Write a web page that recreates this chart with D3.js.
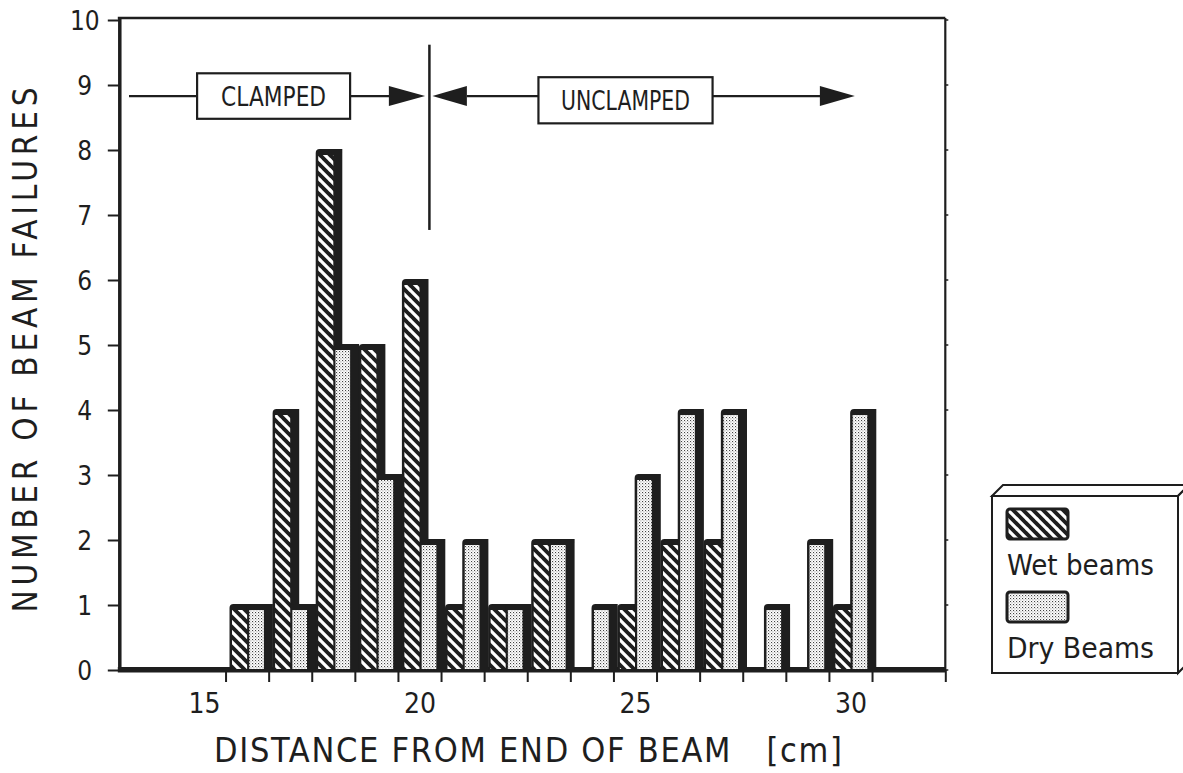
<!DOCTYPE html>
<html lang="en">
<head>
<meta charset="utf-8">
<title>Beam failures</title>
<script src="https://cdn.jsdelivr.net/npm/d3@7"></script>
<style>
  body { margin: 0; background: #fff; }
  text { font-family: "DejaVu Sans Condensed", "DejaVu Sans", sans-serif; fill: #1e1e1e; }
</style>
</head>
<body>
<script>

// distance bins [cm] and counts
var bins      = [16, 17, 18, 19, 20, 21, 22, 23, 24, 25, 26, 27, 28, 29, 30];
var wetCounts = [ 1,  4,  8,  5,  6,  1,  1,  2,  0,  1,  2,  2,  0,  0,  1];
var dryCounts = [ 1,  1,  5,  3,  2,  2,  1,  2,  1,  3,  4,  4,  1,  2,  4];

var yTicks = [0, 1, 2, 3, 4, 5, 6, 7, 8, 9, 10];
var xTickLabels = [15, 20, 25, 30];
var xMinorTicks = d3.range(15.5, 31, 1).concat([32.2]);
var seriesNames = ["Wet beams", "Dry Beams"];

var clampEdge = 20.23;   // boundary between clamped and unclamped zone

var width = 1183, height = 773;

var x = d3.scaleLinear().domain([13, 32.2]).range([117.8, 945.3]);
var y = d3.scaleLinear().domain([0, 10]).range([670, 20]);

var svg = d3.select("body").append("svg")
    .attr("width", width)
    .attr("height", height);

var defs = svg.append("defs");

var hatch = defs.append("pattern")
    .attr("id", "hatch")
    .attr("patternUnits", "userSpaceOnUse")
    .attr("width", 10).attr("height", 10);
hatch.append("rect").attr("width", 10).attr("height", 10).attr("fill", "#1e1e1e");
hatch.append("path")
    .attr("d", "M-1,-1 L11,11 M-1,9 L1,11 M9,-1 L11,1")
    .attr("stroke", "#fff").attr("stroke-width", 3.2);

var dots = defs.append("pattern")
    .attr("id", "dots")
    .attr("patternUnits", "userSpaceOnUse")
    .attr("width", 3).attr("height", 3);
dots.append("rect").attr("width", 3).attr("height", 3).attr("fill", "#fff");
dots.append("rect").attr("x", 0).attr("y", 0).attr("width", 1.1).attr("height", 1.1).attr("fill", "#444");
dots.append("rect").attr("x", 1.5).attr("y", 1.5).attr("width", 0.9).attr("height", 0.9).attr("fill", "#666");

// frame
var ink = "#1e1e1e";
svg.append("line").attr("x1", x(13)).attr("x2", x(32.2)).attr("y1", y(10) - 2).attr("y2", y(10) - 2)
    .attr("stroke", ink).attr("stroke-width", 2.5);
svg.append("line").attr("x1", x(32.2)).attr("x2", x(32.2)).attr("y1", y(10) - 2).attr("y2", y(0))
    .attr("stroke", ink).attr("stroke-width", 2.2);

// y axis
var yAxis = d3.axisLeft(y).tickValues(yTicks).tickSize(12).tickFormat(d3.format("d"));
var gy = svg.append("g")
    .attr("transform", "translate(" + (x(13) + 2) + ",0)")
    .call(yAxis);
gy.select(".domain").attr("stroke", ink).attr("stroke-width", 3.5)
    .attr("d", "M0," + (y(10) - 2) + "V" + (y(0) + 2));
gy.selectAll(".tick line").attr("stroke", ink).attr("stroke-width", 2);
gy.selectAll(".tick text")
    .attr("x", -35).attr("dy", "0.36em")
    .attr("text-anchor", "middle")
    .attr("font-size", 26)
    .attr("fill", ink);

// right side small ticks
svg.append("g").selectAll("line").data(yTicks).enter().append("line")
    .attr("x1", x(32.2)).attr("x2", x(32.2) + 3)
    .attr("y1", function(d) { return y(d); }).attr("y2", function(d) { return y(d); })
    .attr("stroke", ink).attr("stroke-width", 1.5);

// x axis minor ticks
var xAxisMinor = d3.axisBottom(x).tickValues(xMinorTicks).tickSize(12).tickFormat("");
var gxm = svg.append("g").attr("transform", "translate(0," + y(0) + ")").call(xAxisMinor);
gxm.select(".domain").remove();
gxm.selectAll(".tick line").attr("stroke", ink).attr("stroke-width", 2);

// x axis labels
var xAxis = d3.axisBottom(x).tickValues(xTickLabels).tickSize(0);
var gx = svg.append("g").attr("transform", "translate(0," + y(0) + ")").call(xAxis);
gx.select(".domain").remove();
gx.selectAll(".tick text")
    .attr("y", 43).attr("dy", 0)
    .attr("font-size", 28)
    .attr("fill", ink);

// baseline
svg.append("rect")
    .attr("x", x(13)).attr("y", y(0) - 3)
    .attr("width", x(32.2) - x(13)).attr("height", 5.5)
    .attr("fill", ink);

// bars
var barData = [];
bins.forEach(function(b, i) {
    barData.push({bin: b, value: wetCounts[i], series: 0});
    barData.push({bin: b, value: dryCounts[i], series: 1});
});
barData = barData.filter(function(d) { return d.value > 0; });

var unit = x(1) - x(0);
function fillLeft(d) { return x(d.bin) + (d.series === 0 ? -0.35 * unit : 0.05 * unit); }
function fillRight(d) { return x(d.bin) + (d.series === 0 ? 0 : 0.39 * unit); }

function shadowPath(d) {
    var x0 = fillLeft(d) - 2.5, x1 = fillRight(d) + 9;
    var yt = y(d.value) - 1, yb = y(0), r = 4;
    return "M" + x0 + "," + yb + "L" + x0 + "," + (yt + r) +
        "Q" + x0 + "," + yt + " " + (x0 + r) + "," + yt +
        "L" + x1 + "," + yt + "L" + x1 + "," + yb + "Z";
}

svg.append("g").selectAll("path")
    .data(barData).enter().append("path")
    .attr("d", shadowPath)
    .attr("fill", ink);

svg.append("g").selectAll("rect")
    .data(barData).enter().append("rect")
    .attr("x", fillLeft)
    .attr("y", function(d) { return y(d.value) + 5; })
    .attr("width", function(d) { return fillRight(d) - fillLeft(d); })
    .attr("height", function(d) { return y(0) - 1 - (y(d.value) + 5); })
    .attr("fill", function(d) { return d.series === 0 ? "url(#hatch)" : "url(#dots)"; });

// clamped / unclamped annotation
var ann = svg.append("g").attr("stroke", ink).attr("stroke-width", 2.2).attr("fill", "none");
var arrowY = y(8.83);

ann.append("line").attr("x1", x(clampEdge)).attr("x2", x(clampEdge))
    .attr("y1", y(9.62)).attr("y2", y(6.77)).attr("stroke-width", 2.5);

function arrowHead(tipX, baseX) {
    return "M" + tipX + "," + arrowY + "L" + baseX + "," + (arrowY - 10) +
        "L" + baseX + "," + (arrowY + 10) + "Z";
}

// clamped
ann.append("line").attr("x1", x(13.26)).attr("x2", x(14.84)).attr("y1", arrowY).attr("y2", arrowY);
ann.append("rect").attr("x", x(14.84)).attr("y", y(9.18))
    .attr("width", x(18.39) - x(14.84)).attr("height", y(8.48) - y(9.18)).attr("fill", "#fff");
ann.append("line").attr("x1", x(18.39)).attr("x2", x(19.3)).attr("y1", arrowY).attr("y2", arrowY);
ann.append("path").attr("d", arrowHead(x(20.13), x(19.29))).attr("fill", ink).attr("stroke", "none");

// unclamped
ann.append("path").attr("d", arrowHead(x(20.3), x(21.1))).attr("fill", ink).attr("stroke", "none");
ann.append("line").attr("x1", x(21.1)).attr("x2", x(22.76)).attr("y1", arrowY).attr("y2", arrowY);
ann.append("rect").attr("x", x(22.76)).attr("y", y(9.12))
    .attr("width", x(26.8) - x(22.76)).attr("height", y(8.41) - y(9.12)).attr("fill", "#fff");
ann.append("line").attr("x1", x(26.8)).attr("x2", x(29.3)).attr("y1", arrowY).attr("y2", arrowY);
ann.append("path").attr("d", arrowHead(x(30.1), x(29.29))).attr("fill", ink).attr("stroke", "none");

svg.append("text").text("CLAMPED")
    .attr("x", (x(14.84) + x(18.39)) / 2).attr("y", 106)
    .attr("text-anchor", "middle").attr("font-size", 27)
    .attr("textLength", 105).attr("lengthAdjust", "spacingAndGlyphs");
svg.append("text").text("UNCLAMPED")
    .attr("x", (x(22.76) + x(26.8)) / 2).attr("y", 110)
    .attr("text-anchor", "middle").attr("font-size", 27)
    .attr("textLength", 129).attr("lengthAdjust", "spacingAndGlyphs");

// axis titles
svg.append("text")
    .attr("transform", "translate(37,350) rotate(-90)")
    .attr("text-anchor", "middle")
    .attr("font-size", 33)
    .attr("textLength", 525).attr("lengthAdjust", "spacing")
    .text("NUMBER OF BEAM FAILURES");

svg.append("text")
    .attr("x", 214).attr("y", 762)
    .attr("font-size", 34)
    .style("white-space", "pre")
    .attr("textLength", 628).attr("lengthAdjust", "spacing")
    .text("DISTANCE FROM END OF BEAM   [cm]");

// legend box (3D)
var leg = svg.append("g").attr("stroke", ink).attr("stroke-width", 2).attr("fill", "#fff");
var lx0 = 992, lx1 = 1178, ly0 = 496, ly1 = 673, dep = 11;
leg.append("path").attr("d", "M" + lx0 + "," + ly0 + "L" + (lx0 + dep) + "," + (ly0 - dep) +
    "L" + (lx1 + dep) + "," + (ly0 - dep) + "L" + lx1 + "," + ly0 + "Z");
leg.append("path").attr("d", "M" + lx1 + "," + ly0 + "L" + (lx1 + dep) + "," + (ly0 - dep) +
    "L" + (lx1 + dep) + "," + (ly1 - dep) + "L" + lx1 + "," + ly1 + "Z");
leg.append("rect").attr("x", lx0).attr("y", ly0).attr("width", lx1 - lx0).attr("height", ly1 - ly0);

var legItems = svg.append("g").selectAll("g").data(seriesNames).enter().append("g")
    .attr("transform", function(d, i) { return "translate(1007," + (509 + i * 83) + ")"; });
legItems.append("rect")
    .attr("width", 61).attr("height", 30).attr("rx", 3)
    .attr("fill", function(d, i) { return i === 0 ? "url(#hatch)" : "url(#dots)"; })
    .attr("stroke", ink).attr("stroke-width", 3);
legItems.append("text")
    .attr("x", 0).attr("y", 66)
    .attr("font-size", 29)
    .attr("textLength", 147).attr("lengthAdjust", "spacingAndGlyphs")
    .text(function(d) { return d; });

</script>
</body>
</html>
